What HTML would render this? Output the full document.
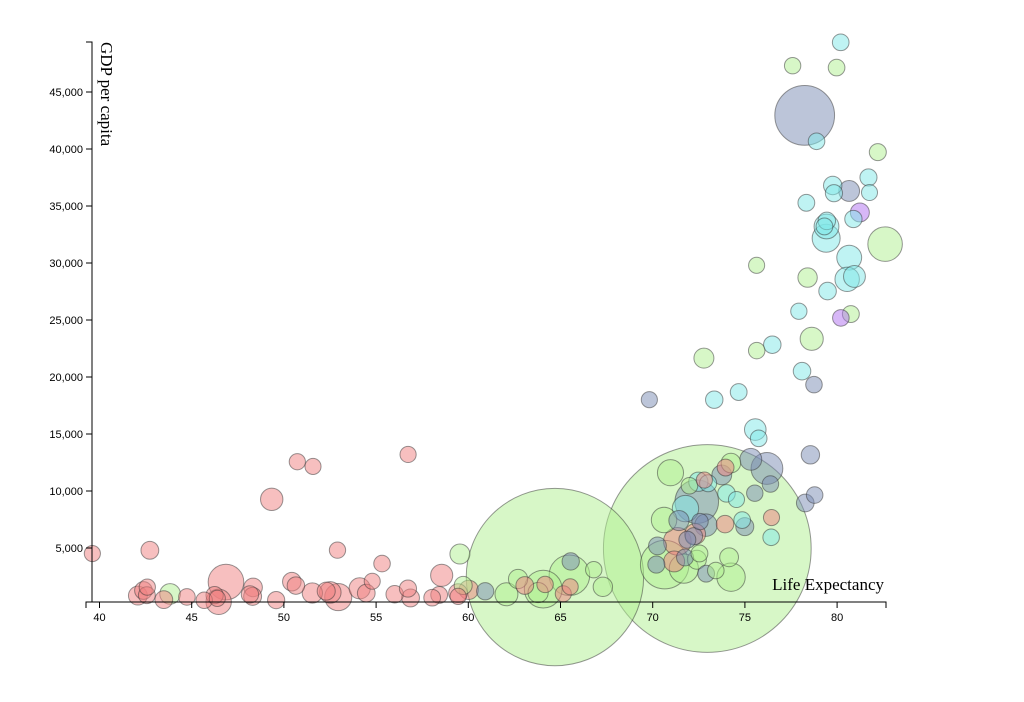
<!DOCTYPE html>
<html><head><meta charset="utf-8"><style>
body{margin:0;background:#fff;}
svg{display:block;font-family:"Liberation Sans",sans-serif;}
.tick text{font-size:11px;fill:#000;}
</style></head><body>
<svg id="chart" width="1024" height="702">
<g id="bubbles"></g>
<g id="xaxis"></g>
<g id="yaxis"></g>
<text x="884" y="590" text-anchor="end" font-family="Liberation Serif,serif" font-size="17">Life Expectancy</text>
<text transform="translate(101,42) rotate(90)" font-family="Liberation Serif,serif" font-size="17">GDP per capita</text>
</svg>
<script>
const continents=["Africa","Americas","Asia","Europe","Oceania"];
const countryContinent=[
0,0,0,0,0,0,0,0,0,0,0,0,0,0,0,0,0,0,0,0,0,0,0,0,0,0,0,0,0,0,0,0,0,0,0,0,0,0,0,0,0,0,0,0,0,0,0,0,0,0,0,0,
1,1,1,1,1,1,1,1,1,1,1,1,1,1,1,1,1,1,1,1,1,1,1,1,1,
2,2,2,2,2,2,2,2,2,2,2,2,2,2,2,2,2,2,2,2,2,2,2,2,2,2,2,2,2,2,2,2,2,
3,3,3,3,3,3,3,3,3,3,3,3,3,3,3,3,3,3,3,3,3,3,3,3,3,3,3,3,3,3,
4,4];
const lifeExp=[
72.301,42.731,56.728,50.728,52.295,49.58,50.43,44.741,50.651,65.152,46.462,55.322,48.328,54.791,71.338,51.579,58.04,52.947,56.735,59.448,60.022,56.007,46.388,54.11,42.592,45.678,73.952,59.443,48.303,54.467,64.164,72.801,71.164,42.082,52.906,56.867,46.859,76.442,46.242,65.528,63.062,42.568,48.159,49.339,58.556,39.613,52.517,58.42,73.923,51.542,42.384,43.487,
75.32,65.554,72.39,80.653,78.553,72.889,78.782,78.273,72.235,74.994,71.878,70.259,60.916,70.198,72.567,76.195,72.899,75.537,71.752,71.421,78.746,69.819,78.242,76.384,73.747,
43.828,75.635,64.062,59.723,72.961,82.208,64.698,70.65,70.964,59.545,80.745,82.603,72.535,67.297,78.623,77.588,71.993,74.241,66.803,62.069,63.785,75.64,65.483,71.688,72.777,79.972,72.396,74.143,78.4,70.616,74.249,73.422,62.698,
76.423,79.829,79.441,74.852,73.005,75.748,76.486,78.332,79.313,80.657,79.406,79.483,73.338,81.757,78.885,80.546,74.543,79.762,80.196,75.563,78.098,72.476,74.002,74.663,77.926,80.941,80.884,81.701,71.777,79.425,
81.235,80.204];
const popMillions=[
33.3,12.4,8.08,1.64,14.3,8.39,17.7,4.37,10.2,0.71,64.6,3.8,18.0,0.5,80.3,0.55,4.9,76.5,1.45,1.69,22.9,9.95,1.47,35.6,2.01,3.19,6.04,19.2,13.3,12.0,3.27,1.25,33.8,20.0,2.06,12.9,135,0.8,8.86,0.2,12.3,6.14,9.12,44.0,42.3,1.13,38.1,5.7,10.3,29.2,11.7,12.3,
40.3,9.12,190,33.4,16.3,44.2,4.13,11.4,9.32,13.8,6.94,12.6,8.5,7.48,2.78,108.7,5.68,3.24,6.67,28.7,3.94,1.06,301,3.45,26.1,
31.9,0.71,150,14.1,1318.7,6.98,1110,223.5,69.5,27.5,6.43,127.5,6.05,23.3,49.0,2.5,3.92,24.8,2.87,47.8,28.9,3.2,169.3,91.1,27.6,4.55,20.4,19.3,23.2,65.1,85.3,4.02,22.2,
3.6,8.2,10.4,4.55,7.32,4.49,10.2,5.47,5.24,61.1,82.4,10.7,9.96,0.3,4.11,58.1,0.68,16.6,4.63,38.5,10.6,22.3,10.2,5.45,2.0,40.4,9.03,7.55,71.2,60.8,
20.4,4.12];
const gdpPerCap=[
6223,4797,1441,12570,1217,430,2042,706,1704,986,278,3633,1545,2082,5581,12154,641,691,13206,753,1328,943,579,1463,1569,415,12057,1045,759,1042,1803,10957,3820,824,4811,620,2014,7670,863,1598,1712,863,926,9270,2602,4513,1107,883,7093,1056,1271,470,
12779,3822,9066,36319,13172,7007,9645,8948,6025,6873,5728,5186,1202,3548,7321,11978,2749,9809,4173,7409,19329,18009,42952,10611,11416,
975,29796,1391,1714,4959,39725,2452,3541,11606,4471,25523,31656,4519,1593,23348,47307,10461,12452,3096,944,1091,22316,2606,3190,21655,47143,3970,4185,28718,7458,2442,3025,2281,
5937,36126,33693,7446,10681,14619,22833,35278,33207,30470,32170,27538,18009,36181,40676,28570,9254,36798,49357,15390,20510,10808,9787,18678,25768,28821,33860,37506,8458,33203,
34435,25185];
const xTicks=[40,45,50,55,60,65,70,75,80];
const yTicks=[5000,10000,15000,20000,25000,30000,35000,40000,45000];

const colors=["#f08080","#7a8cb4","#b0f090","#80e8e8","#b070f0"];
const NS="http://www.w3.org/2000/svg";
const x=v=>99.5+(v-40)*18.44;
const y=v=>605-v*0.0114;
const r=p=>8+0.0727*p;

const bg=document.getElementById('bubbles');
const idx=popMillions.map((p,i)=>i).sort((a,b)=>popMillions[b]-popMillions[a]);
idx.forEach(i=>{
  const c=document.createElementNS(NS,'circle');
  c.setAttribute('cx',x(lifeExp[i]));
  c.setAttribute('cy',y(gdpPerCap[i]));
  c.setAttribute('r',r(popMillions[i]));
  c.setAttribute('fill',colors[countryContinent[i]]);
  c.setAttribute('fill-opacity','0.5');
  c.setAttribute('stroke','#333');
  c.setAttribute('stroke-opacity','0.5');
  
  
  bg.appendChild(c);
});

const xa=document.getElementById('xaxis');
const xl=document.createElementNS(NS,'path');
xl.setAttribute('d','M86,608V602H886V608');
xl.setAttribute('fill','none');xl.setAttribute('stroke','#000');


xa.appendChild(xl);
xTicks.forEach(t=>{
  const g=document.createElementNS(NS,'g');g.setAttribute('class','tick');
  
  
  const l=document.createElementNS(NS,'line');
  l.setAttribute('x1',x(t));l.setAttribute('x2',x(t));l.setAttribute('y1',602);l.setAttribute('y2',608);l.setAttribute('stroke','#000');
  const tx=document.createElementNS(NS,'text');
  tx.setAttribute('x',x(t));tx.setAttribute('y',621);tx.setAttribute('text-anchor','middle');tx.textContent=t;
  g.appendChild(l);g.appendChild(tx);xa.appendChild(g);
});
const ya=document.getElementById('yaxis');
const yl=document.createElementNS(NS,'path');
yl.setAttribute('d','M86,42H92V602H86');
yl.setAttribute('fill','none');yl.setAttribute('stroke','#000');


ya.appendChild(yl);
yTicks.forEach(t=>{
  const g=document.createElementNS(NS,'g');g.setAttribute('class','tick');
  
  
  const l=document.createElementNS(NS,'line');
  l.setAttribute('x1',86);l.setAttribute('x2',92);l.setAttribute('y1',y(t));l.setAttribute('y2',y(t));l.setAttribute('stroke','#000');
  const tx=document.createElementNS(NS,'text');
  tx.setAttribute('x',83);tx.setAttribute('y',y(t)+4);tx.setAttribute('text-anchor','end');tx.textContent=t.toLocaleString('en-US');
  g.appendChild(l);g.appendChild(tx);ya.appendChild(g);
});
</script>
</body></html>
